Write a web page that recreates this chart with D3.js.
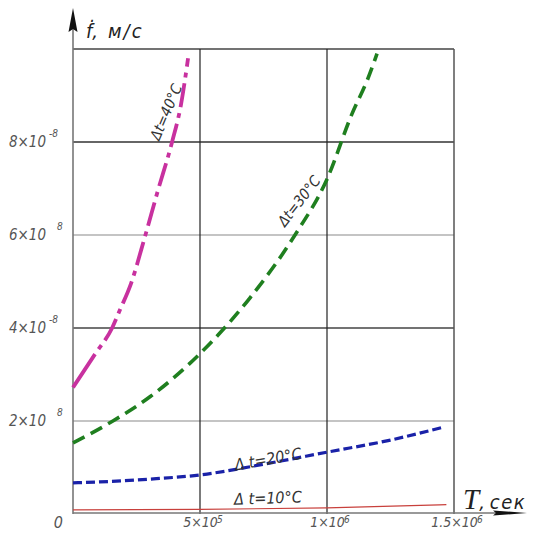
<!DOCTYPE html>
<html><head><meta charset="utf-8">
<script src="https://cdn.jsdelivr.net/npm/d3@7"></script>
<style>
html,body{margin:0;padding:0;background:#fff;}
svg{display:block;}
text{font-family:'Liberation Sans Narrow','DejaVu Sans Condensed','Liberation Sans',sans-serif;font-style:italic;}
</style></head>
<body>
<svg id="c" width="533" height="533"></svg>
<script>
// ---- data ----
const yTicks = [2e-8, 4e-8, 6e-8, 8e-8];
const yTickBase = ["2×10", "4×10", "6×10", "8×10"];
const yTickExp = ["8", "-8", "8", "-8"];
const xTicks = [5e5, 1e6, 1.5e6];
const xTickBase = ["5×10", "1×10", "1.5×10"];
const xTickExp = ["5", "6", "6"];

const t10 = [0, 5e5, 1e6, 1.47e6];
const f10 = [0.09e-8, 0.1e-8, 0.13e-8, 0.2e-8];
const t20 = [0, 1.06e5, 3.03e5, 5e5, 7.5e5, 1e6, 1.25e6, 1.46e6];
const f20 = [0.67e-8, 0.69e-8, 0.75e-8, 0.84e-8, 1.07e-8, 1.33e-8, 1.59e-8, 1.87e-8];
const t30 = [0, 1.57e5, 3.03e5, 5e5, 6.97e5, 8.74e5, 1e6, 1.098e6, 1.16e6, 1.197e6];
const f30 = [1.53e-8, 2.0e-8, 2.52e-8, 3.45e-8, 4.65e-8, 6.0e-8, 7.2e-8, 8.6e-8, 9.35e-8, 9.9e-8];
const t40 = [0, 0.87e5, 1.54e5, 1.85e5, 2.28e5, 2.83e5, 3.35e5, 3.9e5, 4.25e5, 4.53e5];
const f40 = [2.72e-8, 3.44e-8, 4.0e-8, 4.39e-8, 4.95e-8, 5.96e-8, 6.97e-8, 8.0e-8, 8.8e-8, 9.8e-8];

const seriesLabels = ["Δ t=10°C", "Δ t=20°C", "Δt=30°C", "Δt=40°C"];

// ---- layout ----
const svg = d3.select("#c");
const x = d3.scaleLinear().domain([0, 1.5e6]).range([73, 454]);
const y = d3.scaleLinear().domain([0, 1e-7]).range([514, 49]);

// grid
const gridColorY = {2e-8: "#b0b0b0", 4e-8: "#444", 6e-8: "#b0b0b0", 8e-8: "#333", 1e-7: "#444"};
svg.append("g").selectAll("line").data([2e-8, 4e-8, 6e-8, 8e-8, 1e-7]).join("line")
  .attr("x1", x(0)).attr("x2", x(1.5e6))
  .attr("y1", d => y(d)).attr("y2", d => y(d))
  .attr("stroke", d => gridColorY[d]).attr("stroke-width", 1.3);
svg.append("g").selectAll("line").data(xTicks).join("line")
  .attr("x1", d => x(d)).attr("x2", d => x(d))
  .attr("y1", y(1e-7)).attr("y2", y(0))
  .attr("stroke", d => d === 1.5e6 ? "#555" : "#222").attr("stroke-width", d => d === 1.5e6 ? 1.5 : 1.2);

// axes lines
svg.append("line").attr("x1", x(0)).attr("x2", x(0)).attr("y1", y(0)).attr("y2", 22)
  .attr("stroke", "#777").attr("stroke-width", 1.6);
svg.append("line").attr("x1", x(0)).attr("x2", 505).attr("y1", y(0) - 1).attr("y2", y(0) - 1)
  .attr("stroke", "#777").attr("stroke-width", 1.6);
// arrows
svg.append("path").attr("d", `M${x(0)},8 L${x(0)+4.5},32 L${x(0)},29 L${x(0)-4.5},32 Z`).attr("fill", "#111");
svg.append("path").attr("d", `M527,513 L493,510.5 L496,513 L493,515.5 Z`).attr("fill", "#111");

// y tick labels using axis
const yAxis = d3.axisLeft(y).tickValues(yTicks).tickSize(0).tickPadding(27).tickFormat((d, i) => yTickBase[i]);
const gy = svg.append("g").attr("transform", `translate(${x(0)},0)`).call(yAxis);
gy.select(".domain").remove();
gy.selectAll(".tick text").attr("font-size", 15).attr("fill", "#555").attr("dy", "0.3em")
  .style("font-family", "'Liberation Sans Narrow','DejaVu Sans Condensed',sans-serif");
gy.selectAll(".tick").append("text")
  .attr("x", (d, i) => yTickExp[i].startsWith("-") ? -24 : -16)
  .attr("y", -6).attr("font-size", 10).attr("fill", "#555").attr("text-anchor", "start")
  .text((d, i) => yTickExp[i]);

// x tick labels
const xAxis = d3.axisBottom(x).tickValues(xTicks).tickSize(0).tickPadding(5).tickFormat((d, i) => xTickBase[i]);
const gx = svg.append("g").attr("transform", `translate(0,${y(0)})`).call(xAxis);
gx.select(".domain").remove();
gx.selectAll(".tick text").attr("font-size", 14).attr("fill", "#555").attr("dy", "0.6em")
  .style("font-family", "'Liberation Sans Narrow','DejaVu Sans Condensed',sans-serif");
gx.selectAll(".tick").each(function(d, i) {
  const t = d3.select(this).select("text");
  const w = t.node().getComputedTextLength();
  d3.select(this).append("text").attr("x", w / 2 + 2).attr("y", 9)
    .attr("font-size", 10).attr("fill", "#555").text(xTickExp[i]);
});
svg.append("text").attr("x", 63).attr("y", 528).attr("text-anchor", "end")
  .attr("font-size", 16).attr("fill", "#555").text("0");

// axis titles
const ft = svg.append("text").attr("x", 86).attr("y", 38).attr("fill", "#222").attr("font-size", 20);
ft.append("tspan").text("ḟ,");
ft.append("tspan").attr("dx", 10).attr("letter-spacing", 2).text("м/с");
const tt = svg.append("text").attr("x", 463).attr("y", 509).attr("fill", "#222");
tt.append("tspan").attr("font-size", 29).style("font-family", "'Liberation Serif',serif").text("T");
tt.append("tspan").attr("font-size", 20).text(",");
tt.append("tspan").attr("font-size", 20).attr("dx", 5).attr("letter-spacing", 1.5).text("сек");

// curves
const line = d3.line().x(d => x(d[0])).y(d => y(d[1])).curve(d3.curveMonotoneX);
const zip = (a, b) => a.map((v, i) => [v, b[i]]);
svg.append("path").attr("d", line(zip(t10, f10))).attr("fill", "none")
  .attr("stroke", "#c8403c").attr("stroke-width", 1.2);
svg.append("path").attr("d", line(zip(t20, f20))).attr("fill", "none")
  .attr("stroke", "#1a22a8").attr("stroke-width", 3.2).attr("stroke-dasharray", "9,4");
svg.append("path").attr("d", line(zip(t30, f30))).attr("fill", "none")
  .attr("stroke", "#1f7f1f").attr("stroke-width", 3.6).attr("stroke-dasharray", "13,7");
svg.append("path").attr("d", line(zip(t40, f40))).attr("fill", "none")
  .attr("stroke", "#c8319f").attr("stroke-width", 3.8).attr("stroke-dasharray", "40,6,5,6,24,6,5,6,24,6,5,6,24,6,5,6,24,6,5,6,24,6,5,6,24,6,5,6,24,6,5,6");

// curve labels
const lab = [
  {i: 0, cx: 268, cy: 498, r: -2, fs: 16},
  {i: 1, cx: 268, cy: 459, r: -10, fs: 16},
  {i: 2, cx: 299, cy: 201, r: -52, fs: 15},
  {i: 3, cx: 166, cy: 112, r: -67, fs: 15}
];
svg.append("g").selectAll("text").data(lab).join("text")
  .attr("transform", d => `translate(${d.cx},${d.cy}) rotate(${d.r})`)
  .attr("text-anchor", "middle").attr("dy", "0.35em")
  .attr("font-size", d => d.fs).attr("fill", "#333")
  .text(d => seriesLabels[d.i]);
</script>
</body></html>
